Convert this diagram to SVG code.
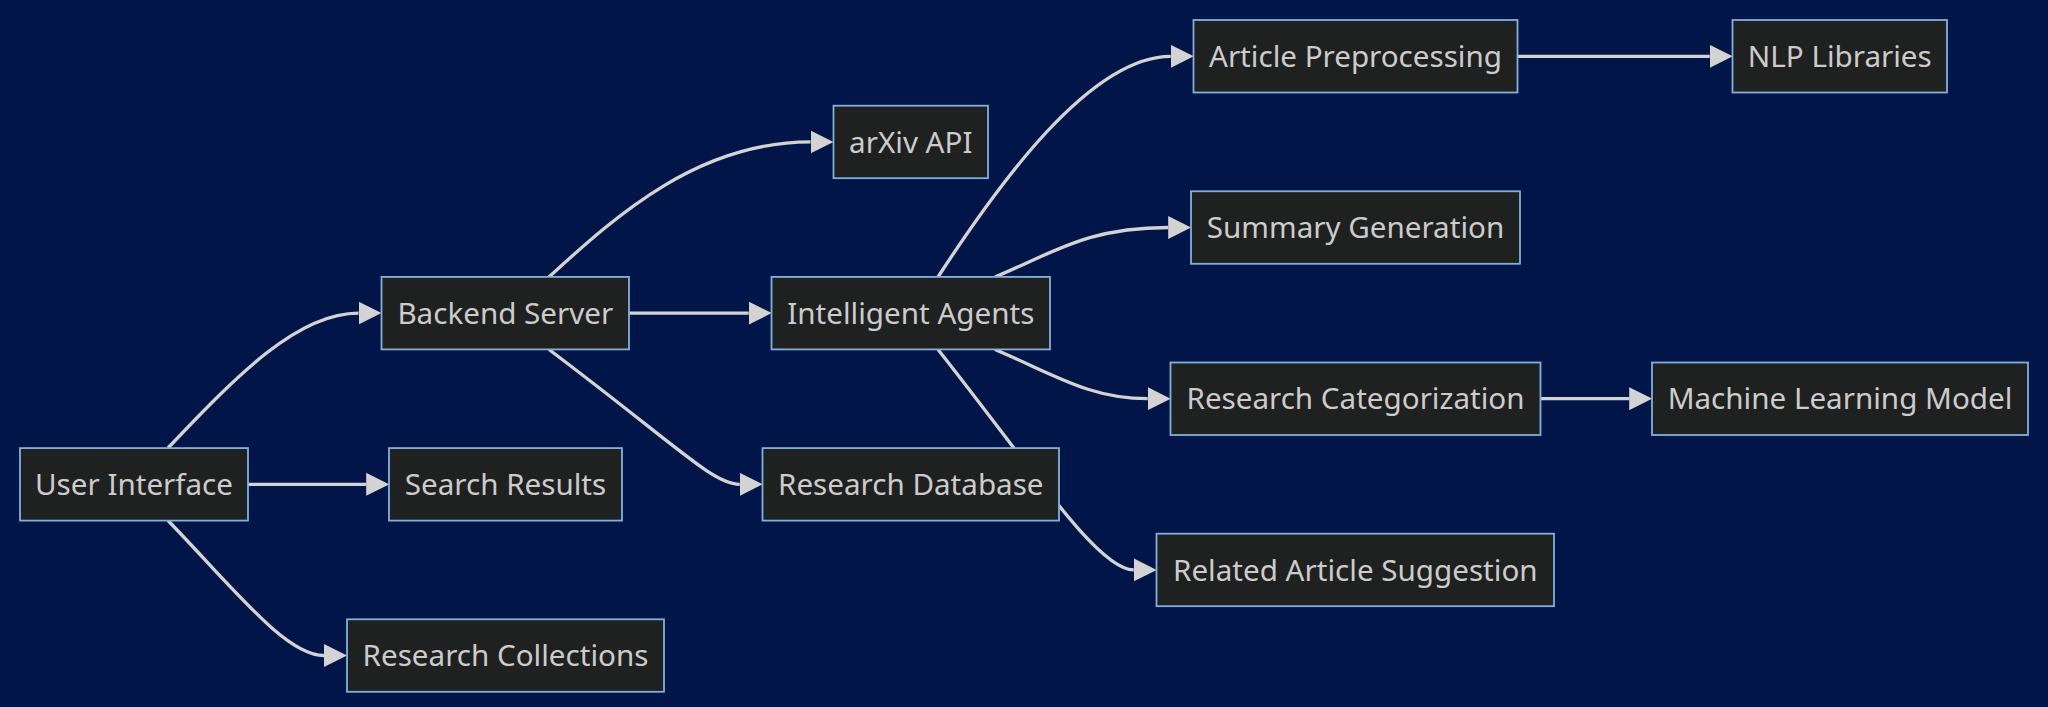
<svg xmlns="http://www.w3.org/2000/svg" width="2048" height="707" viewBox="0 0 2048 707">
<style>
.bg{fill:#011548}
.node rect{fill:#1f2020;stroke:#81b1db;stroke-width:1.8}
.node text{fill:#cccccc;font-family:"Noto Sans","Open Sans","DejaVu Sans",sans-serif;font-size:29.6px;text-anchor:middle}
.edge{fill:none;stroke:#d3d3d3;stroke-width:3.3;marker-end:url(#arrow)}
</style>
<defs>
<marker id="arrow" viewBox="0 0 10 10" refX="0" refY="5" markerUnits="userSpaceOnUse" markerWidth="23" markerHeight="23" orient="auto" preserveAspectRatio="none">
<path d="M0,0 L10,5 L0,10 z" fill="#d3d3d3"/>
</marker>
</defs>
<rect class="bg" x="0" y="0" width="2048" height="707"/>
<g id="connectors">
<path class="edge" d="M168,448 C238,374 298,313.1 358.5,313.1"/>
<path class="edge" d="M248,484.3 L366.2,484.3"/>
<path class="edge" d="M168,520.5 C236,591 286,655.5 324,655.5"/>
<path class="edge" d="M549,277 C619,212.6 700,141.9 810.5,141.9"/>
<path class="edge" d="M629,313.1 L748.7,313.1"/>
<path class="edge" d="M549,349.5 C679,447.5 713,484.3 739.7,484.3"/>
<path class="edge" d="M938,277 C998,184.6 1090,56.3 1170.7,56.3"/>
<path class="edge" d="M995,277 C1055,251.8 1088,227.5 1168.2,227.5"/>
<path class="edge" d="M995,349.5 C1055,375 1090,398.7 1147.7,398.7"/>
<path class="edge" d="M938,349.5 C1033,469.7 1098,569.9 1133.7,569.9"/>
<path class="edge" d="M1517.5,56.3 L1709.7,56.3"/>
<path class="edge" d="M1540.5,398.7 L1629.2,398.7"/>
</g>
<g id="node-ui" class="node"><rect x="20" y="448.1" width="228" height="72.5"/><text x="134" y="494.9">User Interface</text></g>
<g id="node-backend" class="node"><rect x="381.5" y="276.9" width="247.5" height="72.5"/><text x="505.3" y="323.7">Backend Server</text></g>
<g id="node-search" class="node"><rect x="389" y="448.1" width="233" height="72.5"/><text x="505.5" y="494.9">Search Results</text></g>
<g id="node-collections" class="node"><rect x="347" y="619.3" width="317" height="72.5"/><text x="505.5" y="666.1">Research Collections</text></g>
<g id="node-arxiv" class="node"><rect x="833.5" y="105.7" width="154.5" height="72.5"/><text x="910.8" y="152.5">arXiv API</text></g>
<g id="node-agents" class="node"><rect x="771.5" y="276.9" width="278.5" height="72.5"/><text x="910.8" y="323.7">Intelligent Agents</text></g>
<g id="node-database" class="node"><rect x="762.5" y="448.1" width="296.5" height="72.5"/><text x="910.8" y="494.9">Research Database</text></g>
<g id="node-preprocessing" class="node"><rect x="1193.5" y="20" width="324" height="72.5"/><text x="1355.5" y="66.9">Article Preprocessing</text></g>
<g id="node-summary" class="node"><rect x="1191" y="191.3" width="329" height="72.5"/><text x="1355.5" y="238.1">Summary Generation</text></g>
<g id="node-categorization" class="node"><rect x="1170.5" y="362.5" width="370" height="72.5"/><text x="1355.5" y="409.3">Research Categorization</text></g>
<g id="node-related" class="node"><rect x="1156.5" y="533.7" width="397.5" height="72.5"/><text x="1355.3" y="580.5">Related Article Suggestion</text></g>
<g id="node-nlp" class="node"><rect x="1732.5" y="20" width="214.5" height="72.5"/><text x="1839.8" y="66.9">NLP Libraries</text></g>
<g id="node-ml" class="node"><rect x="1652" y="362.5" width="376" height="72.5"/><text x="1840" y="409.3">Machine Learning Model</text></g>
</svg>
